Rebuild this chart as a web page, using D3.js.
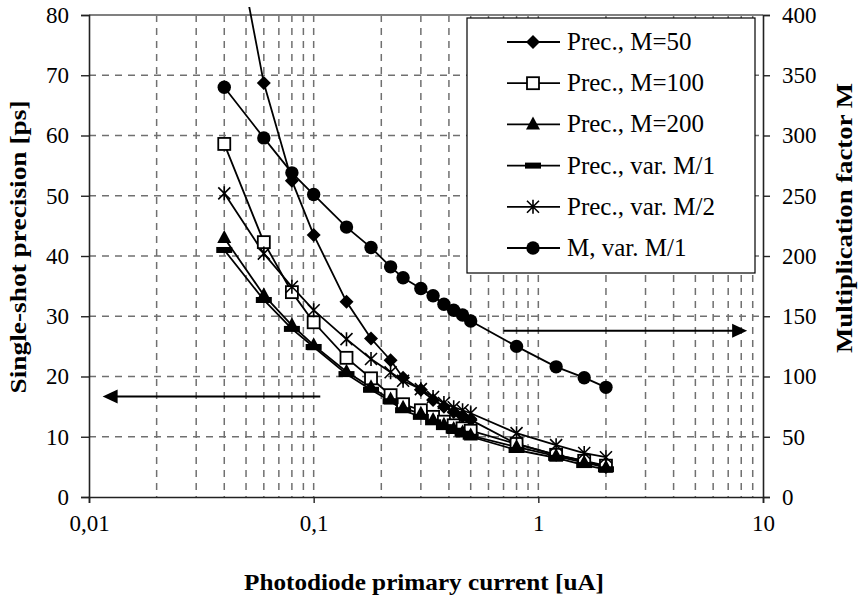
<!DOCTYPE html>
<html>
<head>
<meta charset="utf-8">
<script src="https://cdn.jsdelivr.net/npm/d3@7"></script>
<style>
  body { margin: 0; background: #fff; }
  svg text { font-family: "Liberation Serif", "Times New Roman", serif; fill: #000; }
</style>
</head>
<body>
<svg id="chart" width="858" height="598"></svg>
<script>
// photodiode current [uA]
const current = [0.04, 0.06, 0.08, 0.1, 0.14, 0.18, 0.22, 0.25, 0.3, 0.34, 0.38, 0.42, 0.46, 0.5, 0.8, 1.2, 1.6, 2.0];

const precM50   = [103, 68.7, 52.5, 43.5, 32.4, 26.3, 22.7, 19.8, 17.8, 16.1, 15.0, 14.1, 13.4, 12.8, 8.8, 7.0, 6.0, 5.0];
const precM100  = [58.6, 42.3, 34.0, 29.0, 23.1, 19.7, 16.9, 15.4, 14.4, 13.3, 12.5, 11.9, 11.4, 11.0, 8.8, 7.0, 6.0, 5.2];
const precM200  = [43.0, 33.5, 28.5, 25.2, 20.8, 18.2, 16.2, 14.8, 13.8, 12.8, 12.0, 11.3, 10.7, 10.2, 8.3, 6.8, 5.7, 4.9];
const precVarM1 = [41.0, 32.7, 27.9, 24.9, 20.4, 17.8, 15.9, 14.4, 13.3, 12.4, 11.6, 11.0, 10.5, 10.0, 7.8, 6.5, 5.3, 4.6];
const precVarM2 = [50.4, 40.4, 34.9, 31.0, 26.2, 22.9, 20.7, 19.3, 17.9, 16.6, 15.6, 14.9, 14.4, 13.9, 10.6, 8.6, 7.3, 6.6];
const multM     = [340, 298, 269, 251, 224, 207, 191, 182, 173, 167, 160, 155, 151, 146, 125, 108, 99, 91];

const legendNames = ["Prec., M=50", "Prec., M=100", "Prec., M=200", "Prec., var. M/1", "Prec., var. M/2", "M, var. M/1"];
const xTicks = [0.01, 0.1, 1, 10];
const xTickLabels = ["0,01", "0,1", "1", "10"];
const yLeftTicks = [0, 10, 20, 30, 40, 50, 60, 70, 80];
const yRightTicks = [0, 50, 100, 150, 200, 250, 300, 350, 400];

var svg = d3.select("#chart");

var pLeft = 89, pRight = 763, pTop = 15, pBottom = 497;

var x = d3.scaleLog().domain([0.01, 10]).range([pLeft, pRight]);
var yL = d3.scaleLinear().domain([0, 80]).range([pBottom, pTop]);
var yR = d3.scaleLinear().domain([0, 400]).range([pBottom, pTop]);

// grid
var minor = [];
[0.01, 0.1, 1].forEach(function(dec) {
  for (var k = 2; k <= 10; k++) minor.push(dec * k);
});
minor = minor.filter(function(v) { return v < 9.99; });

var grid = svg.append("g").attr("stroke", "#707070").attr("stroke-width", 1.5).attr("stroke-dasharray", "7,6");
grid.selectAll("line.v").data(minor).enter().append("line")
  .attr("x1", d => x(d)).attr("x2", d => x(d))
  .attr("y1", pTop).attr("y2", pBottom);
grid.selectAll("line.h").data(yLeftTicks.slice(1, -1)).enter().append("line")
  .attr("x1", pLeft).attr("x2", pRight)
  .attr("y1", d => yL(d)).attr("y2", d => yL(d));

// top border
svg.append("line").attr("x1", pLeft).attr("x2", pRight).attr("y1", pTop).attr("y2", pTop)
  .attr("stroke", "#808080").attr("stroke-width", 2);

// axes
var axL = d3.axisLeft(yL).tickValues(yLeftTicks).tickSize(8).tickPadding(12);
var gL = svg.append("g").attr("transform", "translate(" + pLeft + ",0)").call(axL);
var axR = d3.axisRight(yR).tickValues(yRightTicks).tickSize(7).tickPadding(12);
var gR = svg.append("g").attr("transform", "translate(" + pRight + ",0)").call(axR);
var axB = d3.axisBottom(x).tickValues(xTicks).tickFormat((d, i) => xTickLabels[i]).tickSize(6).tickPadding(12);
var gB = svg.append("g").attr("transform", "translate(0," + pBottom + ")").call(axB);

[gL, gR, gB].forEach(function(g) {
  g.attr("font-family", null).attr("font-size", null);
  g.select(".domain").attr("stroke", "#222").attr("stroke-width", 1.6);
  g.selectAll(".tick line").attr("stroke", "#222").attr("stroke-width", 1.4);
  g.selectAll("text").attr("font-size", 23);
});

// markers
function drawMarker(g, kind, cx, cy) {
  if (kind === "diamond") {
    g.append("path").attr("d", "M0,-7L7,0L0,7L-7,0Z")
      .attr("transform", "translate(" + cx + "," + cy + ")").attr("fill", "#000");
  } else if (kind === "square") {
    g.append("rect").attr("x", cx - 6).attr("y", cy - 6).attr("width", 12).attr("height", 12)
      .attr("fill", "#fff").attr("stroke", "#000").attr("stroke-width", 1.8);
  } else if (kind === "triangle") {
    g.append("path").attr("d", "M0,-8L7,5L-7,5Z")
      .attr("transform", "translate(" + cx + "," + cy + ")").attr("fill", "#000");
  } else if (kind === "bar") {
    g.append("rect").attr("x", cx - 8).attr("y", cy - 3).attr("width", 16).attr("height", 6).attr("fill", "#000");
  } else if (kind === "star") {
    g.append("path").attr("d", "M-6,-6L6,6M-6,6L6,-6M0,-7L0,7")
      .attr("transform", "translate(" + cx + "," + cy + ")")
      .attr("stroke", "#000").attr("stroke-width", 1.6).attr("fill", "none");
  } else if (kind === "circle") {
    g.append("circle").attr("cx", cx).attr("cy", cy).attr("r", 6.7).attr("fill", "#000");
  }
}

var series = [
  { vals: precM50, y: yL, kind: "diamond" },
  { vals: precM100, y: yL, kind: "square" },
  { vals: precM200, y: yL, kind: "triangle" },
  { vals: precVarM1, y: yL, kind: "bar" },
  { vals: precVarM2, y: yL, kind: "star" },
  { vals: multM, y: yR, kind: "circle" }
];

svg.append("clipPath").attr("id", "clip").append("rect")
  .attr("x", pLeft).attr("y", 7).attr("width", pRight - pLeft).attr("height", pBottom - 7);

var plot = svg.append("g").attr("clip-path", "url(#clip)");

series.forEach(function(s) {
  var line = d3.line().x((d, i) => x(current[i])).y(d => s.y(d));
  plot.append("path").datum(s.vals).attr("d", line)
    .attr("fill", "none").attr("stroke", "#000").attr("stroke-width", 1.8);
});
series.forEach(function(s) {
  var g = plot.append("g");
  s.vals.forEach(function(v, i) { drawMarker(g, s.kind, x(current[i]), s.y(v)); });
});

// arrows
function arrow(x1, x2, y) {
  var dir = x2 > x1 ? 1 : -1;
  svg.append("line").attr("x1", x1).attr("x2", x2 - dir * 12).attr("y1", y).attr("y2", y)
    .attr("stroke", "#000").attr("stroke-width", 2);
  svg.append("path")
    .attr("d", "M" + x2 + "," + y + "L" + (x2 - dir * 15) + "," + (y - 7) + "L" + (x2 - dir * 15) + "," + (y + 7) + "Z")
    .attr("fill", "#000");
}
arrow(x(0.107), x(0.0115), yL(16.7));
arrow(x(0.7), x(8.5), yR(138));

// legend
var lg = svg.append("g");
lg.append("rect").attr("x", 467).attr("y", 18).attr("width", 288).attr("height", 255)
  .attr("fill", "#fff").attr("stroke", "#000").attr("stroke-width", 1.2);
legendNames.forEach(function(name, i) {
  var ly = 42 + i * 41.2;
  lg.append("line").attr("x1", 507).attr("x2", 560).attr("y1", ly).attr("y2", ly)
    .attr("stroke", "#000").attr("stroke-width", 1.8);
  drawMarker(lg, series[i].kind, 533, ly);
  lg.append("text").attr("x", 567).attr("y", ly + 8).attr("font-size", 25).text(name);
});

// axis titles
svg.append("text").attr("transform", "translate(26,247) rotate(-90)")
  .attr("text-anchor", "middle").attr("font-weight", "bold").attr("font-size", 23)
  .attr("textLength", 293).attr("lengthAdjust", "spacingAndGlyphs")
  .text("Single-shot precision [ps]");
svg.append("text").attr("transform", "translate(852,218) rotate(-90)")
  .attr("text-anchor", "middle").attr("font-weight", "bold").attr("font-size", 23)
  .attr("textLength", 270).attr("lengthAdjust", "spacingAndGlyphs")
  .text("Multiplication factor M");
svg.append("text").attr("x", 424).attr("y", 590)
  .attr("text-anchor", "middle").attr("font-weight", "bold").attr("font-size", 23)
  .attr("textLength", 360).attr("lengthAdjust", "spacingAndGlyphs")
  .text("Photodiode primary  current [uA]");
</script>
</body>
</html>
